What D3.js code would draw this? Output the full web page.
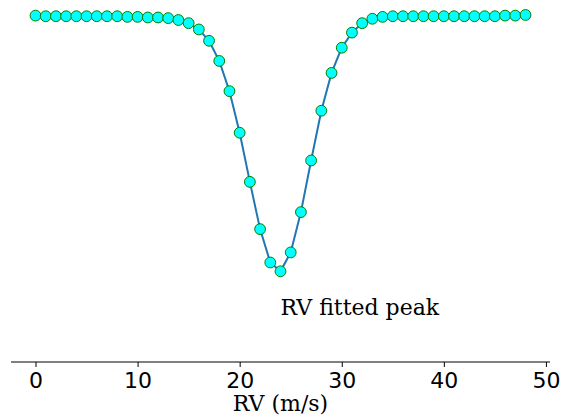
<!DOCTYPE html>
<html>
<head>
<meta charset="utf-8">
<script src="https://cdn.jsdelivr.net/npm/d3@7"></script>
<style>
  html, body { margin: 0; padding: 0; background: #fff; }
  svg { display: block; }
</style>
</head>
<body>
<svg id="chart" width="561" height="416"></svg>
<script>
// Radial-velocity grid (m/s) and the normalised cross-correlation profile
const rv = d3.range(0, 49);
const flux = [
  1.000, 0.999, 0.999, 0.999, 0.999, 0.999, 0.999, 0.999, 0.999, 0.998,
  0.998, 0.997, 0.997, 0.996, 0.993, 0.988, 0.978, 0.960, 0.928, 0.880,
  0.814, 0.736, 0.661, 0.608, 0.594, 0.624, 0.688, 0.770, 0.849, 0.909,
  0.949, 0.973, 0.988, 0.995, 0.998, 0.999, 0.999, 0.999, 0.999, 0.999,
  0.999, 0.999, 0.999, 0.999, 0.999, 0.999, 1.000, 1.000, 1.001
];
const xTicks = [0, 10, 20, 30, 40, 50];
const xDomain = [-2.4, 50.4];
const yDomain = [0.45, 1.02];
const peakLabel = "RV fitted peak";
const peakLabelPos = [24, 0.525];
const xTitle = "RV (m/s)";

const svg = d3.select("#chart");
const plotLeft = 11, plotRight = 550, plotTop = 3, plotBottom = 362;

const x = d3.scaleLinear().domain(xDomain).range([plotLeft, plotRight]);
const y = d3.scaleLinear().domain(yDomain).range([plotBottom, plotTop]);

const pts = rv.map((v, i) => [v, flux[i]]);

// profile line
svg.append("path")
  .datum(pts)
  .attr("fill", "none")
  .attr("stroke", "#1f77b4")
  .attr("stroke-width", 2)
  .attr("d", d3.line().x(d => x(d[0])).y(d => y(d[1])));

// sample markers
svg.append("g")
  .selectAll("circle")
  .data(pts)
  .join("circle")
  .attr("cx", d => x(d[0]))
  .attr("cy", d => y(d[1]))
  .attr("r", 5.4)
  .attr("fill", "#00ffff")
  .attr("stroke", "#008000")
  .attr("stroke-width", 1);

// bottom axis
const ax = svg.append("g")
  .attr("transform", `translate(0,${plotBottom})`)
  .call(d3.axisBottom(x).tickValues(xTicks).tickSize(5).tickPadding(5).tickFormat(d3.format("d")));
ax.select(".domain").attr("stroke", "#000").attr("stroke-width", 1).attr("d", `M${plotLeft},0H${plotRight}`);
ax.selectAll(".tick line").attr("stroke", "#000").attr("stroke-width", 1);
ax.selectAll(".tick text")
  .attr("fill", "#000")
  .style("font-family", "'DejaVu Sans', sans-serif")
  .style("font-size", "22px");

// annotation at the fitted peak
svg.append("text")
  .attr("x", x(peakLabelPos[0]))
  .attr("y", y(peakLabelPos[1]))
  .style("font-family", "'DejaVu Serif', serif")
  .style("font-size", "22px")
  .attr("fill", "#000")
  .text(peakLabel);

// axis title
svg.append("text")
  .attr("x", (plotLeft + plotRight) / 2)
  .attr("y", 411)
  .attr("text-anchor", "middle")
  .style("font-family", "'DejaVu Serif', serif")
  .style("font-size", "22px")
  .attr("fill", "#000")
  .text(xTitle);
</script>
</body>
</html>
